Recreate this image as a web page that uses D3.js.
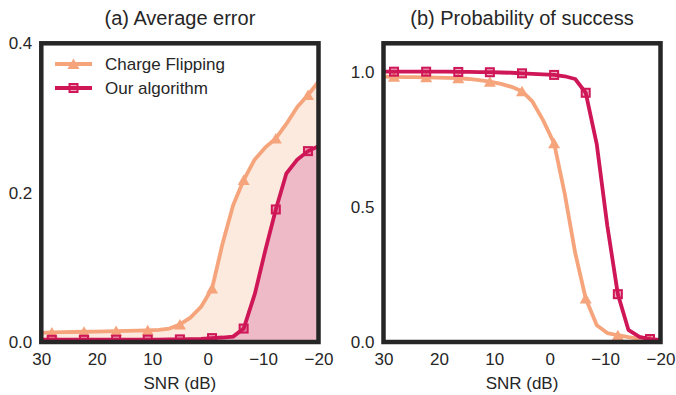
<!DOCTYPE html>
<html>
<head>
<meta charset="utf-8" />
<script src="https://d3js.org/d3.v7.min.js"></script>
<style>
  body { margin: 0; background: #fff; }
  text { font-family: "Liberation Sans", Arial, sans-serif; fill: #262626; }
  .tick line { display: none; }
  .domain { display: none; }
</style>
</head>
<body>
<svg id="chart" width="676" height="395"></svg>
<script>

// SNR grid (dB) shared by all curves; markers sit on every third point
var snr = [30, 28.1, 26.2, 24.2, 22.3, 20.4, 18.5, 16.5, 14.6, 12.7, 10.8, 8.8, 6.9, 5.0, 3.1, 1.2,
  -0.8, -2.7, -4.6, -6.5, -8.5, -10.4, -12.3, -14.2, -16.2, -18.1, -20];
var markerIdx = [1, 4, 7, 10, 13, 16, 19, 22, 25];

var seriesNames = ["Charge Flipping", "Our algorithm"];

// (a) average error
var errCF = [0.0122, 0.0128, 0.0131, 0.0134, 0.0137, 0.014, 0.0143, 0.0146, 0.0149, 0.0152, 0.0157,
  0.0163, 0.018, 0.0235, 0.0327, 0.047, 0.0716, 0.132, 0.183, 0.2168, 0.2445, 0.2606, 0.2726,
  0.292, 0.315, 0.3307, 0.3485];
var errOurs = [0.003, 0.003, 0.003, 0.003, 0.003, 0.003, 0.0031, 0.0031, 0.0031, 0.0032, 0.0032,
  0.0033, 0.0034, 0.0035, 0.0038, 0.0043, 0.0052, 0.006, 0.0072, 0.018, 0.064, 0.1225, 0.1775,
  0.2257, 0.2445, 0.2556, 0.2623];

// (b) probability of success
var succCF = [0.982, 0.981, 0.98, 0.98, 0.979, 0.978, 0.977, 0.976, 0.973, 0.969, 0.963, 0.955,
  0.944, 0.928, 0.889, 0.821, 0.735, 0.55, 0.33, 0.161, 0.062, 0.033, 0.025, 0.018, 0.012, 0.009, 0.007];
var succOurs = [1.0, 1.0, 1.0, 1.0, 1.0, 1.0, 1.0, 0.999, 0.999, 0.998, 0.998, 0.997, 0.996, 0.994,
  0.992, 0.99, 0.988, 0.983, 0.973, 0.922, 0.731, 0.43, 0.177, 0.045, 0.019, 0.011, 0.008];

var xTicks = [30, 20, 10, 0, -10, -20];
var errTicks = [0, 0.2, 0.4];
var succTicks = [0, 0.5, 1.0];

var cfColor = "#f5a47c", ourColor = "#cf1657";
var cfFill = "#fbeadd", ourFill = "#eebac8";

var svg = d3.select("#chart");
var plotTop = 43.3, plotBottom = 342;

function panel(id, x0, x1, yMax, yTicks, title, cfVals, ourVals, filled, legend) {
  var g = svg.append("g");
  var x = d3.scaleLinear().domain([30, -20]).range([x0, x1]);
  var y = d3.scaleLinear().domain([0, yMax]).range([plotBottom, plotTop]);

  g.append("clipPath").attr("id", "clip" + id)
    .append("rect").attr("x", x0).attr("y", plotTop).attr("width", x1 - x0).attr("height", plotBottom - plotTop);

  var plot = g.append("g").attr("clip-path", "url(#clip" + id + ")");

  var line = function(vals) {
    return d3.line().x(function(d, i) { return x(snr[i]); }).y(function(d) { return y(d); })(vals);
  };
  var area = function(vals) {
    return d3.area().x(function(d, i) { return x(snr[i]); }).y0(y(0)).y1(function(d) { return y(d); })(vals);
  };

  if (filled) {
    plot.append("path").attr("d", area(cfVals)).attr("fill", cfFill);
    plot.append("path").attr("d", area(ourVals)).attr("fill", ourFill);
  }

  plot.append("path").attr("d", line(cfVals)).attr("fill", "none")
    .attr("stroke", cfColor).attr("stroke-width", 3.8).attr("stroke-linejoin", "round");

  plot.selectAll(".tri").data(markerIdx).enter().append("path")
    .attr("class", "tri")
    .attr("d", "M0,-5.5 L6,5 L-6,5 Z")
    .attr("transform", function(i) { return "translate(" + x(snr[i]) + "," + y(cfVals[i]) + ")"; })
    .attr("fill", cfColor);

  plot.append("path").attr("d", line(ourVals)).attr("fill", "none")
    .attr("stroke", ourColor).attr("stroke-width", 3.8).attr("stroke-linejoin", "round");

  plot.selectAll(".sq").data(markerIdx).enter().append("rect")
    .attr("class", "sq")
    .attr("x", function(i) { return x(snr[i]) - 4; })
    .attr("y", function(i) { return y(ourVals[i]) - 4; })
    .attr("width", 8).attr("height", 8)
    .attr("fill", ourColor).attr("fill-opacity", 0.35)
    .attr("stroke", ourColor).attr("stroke-width", 2);

  // frame
  g.append("rect").attr("x", x0).attr("y", plotTop).attr("width", x1 - x0).attr("height", plotBottom - plotTop)
    .attr("fill", "none").attr("stroke", "#262626").attr("stroke-width", 4.5);

  g.append("g").attr("transform", "translate(0," + plotBottom + ")")
    .call(d3.axisBottom(x).tickValues(xTicks).tickSize(0).tickPadding(11).tickFormat(d3.format("d")))
    .selectAll("text").style("font-size", "17px").attr("fill", "#262626");

  g.append("g").attr("transform", "translate(" + x0 + ",0)")
    .call(d3.axisLeft(y).tickValues(yTicks).tickSize(0).tickPadding(9).tickFormat(d3.format(".1f")))
    .selectAll("text").style("font-size", "17px").attr("fill", "#262626");

  g.append("text").attr("x", (x0 + x1) / 2).attr("y", 389).attr("text-anchor", "middle")
    .style("font-size", "17px").text("SNR (dB)");

  g.append("text").attr("x", (x0 + x1) / 2).attr("y", 25).attr("text-anchor", "middle")
    .style("font-size", "20px").text(title);

  if (legend) {
    var lg = g.append("g");
    var rows = [64, 88];
    lg.append("line").attr("x1", 55).attr("x2", 92).attr("y1", rows[0]).attr("y2", rows[0])
      .attr("stroke", cfColor).attr("stroke-width", 3.8);
    lg.append("path").attr("d", "M0,-5.5 L6,5 L-6,5 Z")
      .attr("transform", "translate(73.5," + rows[0] + ")").attr("fill", cfColor);
    lg.append("line").attr("x1", 55).attr("x2", 92).attr("y1", rows[1]).attr("y2", rows[1])
      .attr("stroke", ourColor).attr("stroke-width", 3.8);
    lg.append("rect").attr("x", 69.5).attr("y", rows[1] - 4).attr("width", 8).attr("height", 8)
      .attr("fill", ourColor).attr("fill-opacity", 0.35).attr("stroke", ourColor).attr("stroke-width", 2);
    lg.selectAll(".lt").data(seriesNames).enter().append("text")
      .attr("x", 105).attr("y", function(d, i) { return rows[i] + 6; })
      .style("font-size", "17px").text(function(d) { return d; });
  }
}

panel("a", 41.3, 318.5, 0.4, errTicks, "(a) Average error", errCF, errOurs, true, true);
panel("b", 383.5, 660.5, 1.105, succTicks, "(b) Probability of success", succCF, succOurs, false, false);

</script>
</body>
</html>
